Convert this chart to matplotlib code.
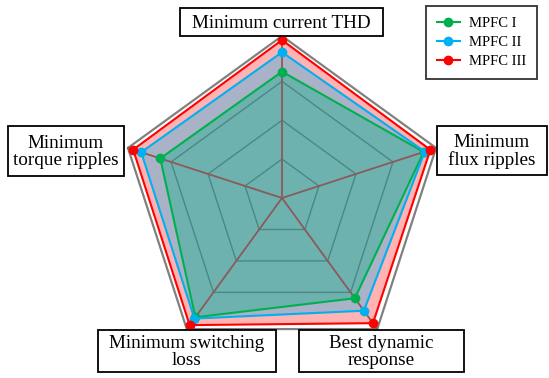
import numpy as np
import matplotlib.pyplot as plt
from matplotlib.patches import Rectangle

# Criteria, clockwise from the top
categories = ["Minimum current THD", "Minimum\nflux ripples", "Best dynamic\nresponse",
              "Minimum switching\nloss", "Minimum\ntorque ripples"]
series_names = ["MPFC I", "MPFC II", "MPFC III"]
mpfc1 = [0.78, 0.92, 0.765, 0.91, 0.79]
mpfc2 = [0.90, 0.927, 0.86, 0.92, 0.914]
mpfc3 = [0.975, 0.963, 0.955, 0.97, 0.966]
ring_levels = [0.24, 0.48, 0.72]

line_colors = ["#00B050", "#00B0F0", "#FF0000"]
fill_colors = ["#6DB2AE", "#A9B2C7", "#FFB3B3"]

plt.rcParams["font.family"] = ["Liberation Serif", "DejaVu Serif"]

angles = np.deg2rad(90 - 72 * np.arange(len(categories)))


def xy(r):
    r = np.asarray(r, dtype=float)
    x = r * np.cos(angles)
    y = r * np.sin(angles)
    return np.append(x, x[0]), np.append(y, y[0])


fig = plt.figure(figsize=(5.49, 3.78), dpi=100)
ax = fig.add_axes([0, 0, 1, 1])
scale = 162.0
cx, cy = 282.0, 198.0
ax.set_xlim(-cx / scale, (549 - cx) / scale)
ax.set_ylim(-(378 - cy) / scale, cy / scale)
ax.axis("off")


def px2data(x, y):
    return (x - cx) / scale, (cy - y) / scale


# outer frame
fx, fy = xy(np.ones(len(categories)))
ax.plot(fx, fy, color="#808080", lw=1.6, zorder=1)

# filled areas, largest first
series = [mpfc1, mpfc2, mpfc3]
for vals, fc in zip(series[::-1], fill_colors[::-1]):
    px, py = xy(vals)
    ax.fill(px, py, color=fc, lw=0, zorder=2)

# grid rings and spokes
for lev in ring_levels:
    gx, gy = xy(np.full(len(categories), lev))
    ax.plot(gx, gy, color="#4A8785", lw=1.0, zorder=3)
for a in angles:
    ax.plot([0, np.cos(a)], [0, np.sin(a)], color="#8B5A5A", lw=1.3, zorder=3)

for vals, lc, name in zip(series, line_colors, series_names):
    px, py = xy(vals)
    ax.plot(px, py, color=lc, lw=1.5, marker="o", markersize=6,
            markevery=list(range(len(categories))), label=name, zorder=4)

# category labels in boxes (left, top, right, bottom in pixels)
label_boxes = [(180, 8, 383, 36), (437, 126, 547, 175), (299, 330, 464, 372),
               (98, 330, 276, 372), (8, 126, 124, 176)]
for text, (x0, y0, x1, y1) in zip(categories, label_boxes):
    bx0, by0 = px2data(x0, y1)
    bx1, by1 = px2data(x1, y0)
    ax.add_patch(Rectangle((bx0, by0), bx1 - bx0, by1 - by0, fc="white",
                           ec="black", lw=1.3, zorder=5))
    tx, ty = px2data((x0 + x1) / 2, (y0 + y1) / 2 + 1)
    ax.text(tx, ty, text, ha="center", va="center", fontsize=13.8,
            linespacing=0.95, zorder=6)

leg = ax.legend(loc="upper right", bbox_to_anchor=(537 / 549, 1 - 6 / 378),
                borderaxespad=0, fontsize=10.5, frameon=True, fancybox=False,
                edgecolor="black", handlelength=1.6, handletextpad=0.6,
                borderpad=0.75, labelspacing=0.4)
leg.get_frame().set_linewidth(1.3)

fig.savefig("out.png", dpi=100)
